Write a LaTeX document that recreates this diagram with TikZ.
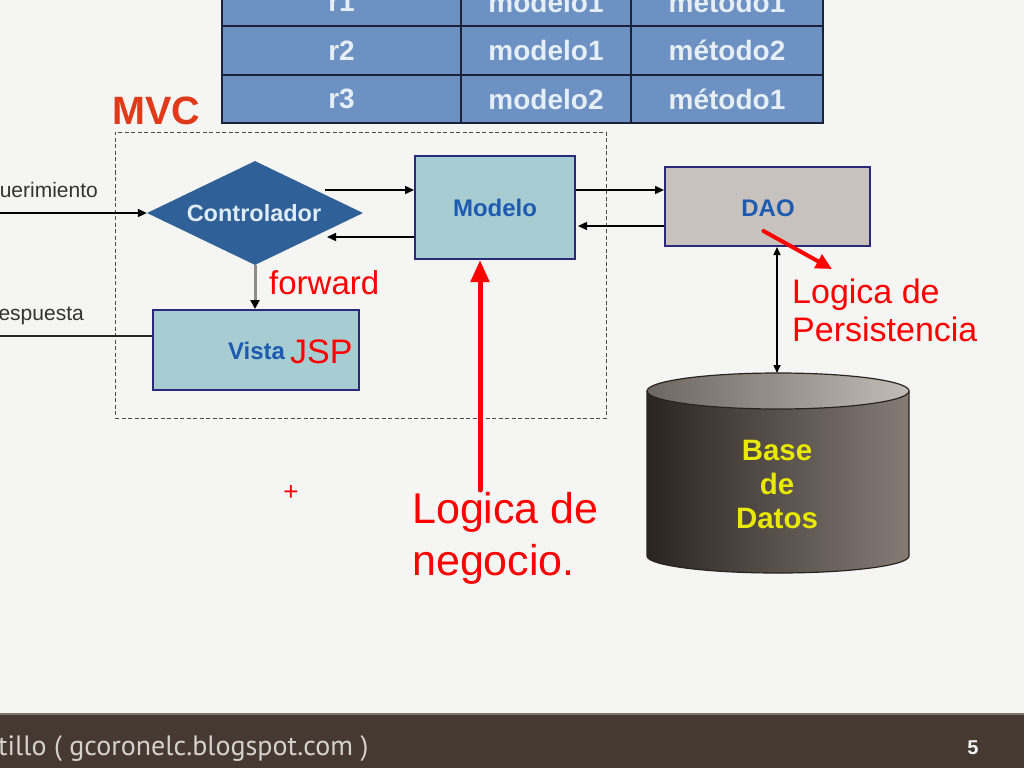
\documentclass[tikz,border=0pt]{standalone}
\usepackage{fontspec}
\setmainfont{Liberation Sans}
\newfontfamily\footfont{PT Sans}
\usetikzlibrary{shapes.geometric,arrows.meta}
\definecolor{bgc}{HTML}{F5F5F3}
\definecolor{tabfill}{HTML}{6C91C2}
\definecolor{tabtext}{HTML}{E6EEF6}
\definecolor{tabline}{HTML}{1B2238}
\definecolor{ctrlfill}{HTML}{2F6098}
\definecolor{ctrltext}{HTML}{E0ECF5}
\definecolor{boxfill}{HTML}{A7CDD2}
\definecolor{boxline}{HTML}{2B2A7A}
\definecolor{daofill}{HTML}{C8C2BE}
\definecolor{bluetxt}{HTML}{1E5BB0}
\definecolor{redtxt}{HTML}{FF0000}
\definecolor{mvcred}{HTML}{E03A1A}
\definecolor{footc}{HTML}{463932}
\definecolor{footline}{HTML}{7B726B}
\definecolor{foottext}{HTML}{D5D1CC}
\definecolor{dbedge}{HTML}{2A2420}
\definecolor{dbmid}{HTML}{6B625C}
\definecolor{dbright}{HTML}{857C76}
\definecolor{dbtopl}{HTML}{6E6660}
\definecolor{dbtopm}{HTML}{A39C96}
\definecolor{dbtopr}{HTML}{C2BCB6}
\definecolor{dbyellow}{HTML}{E8E800}
\definecolor{graytxt}{HTML}{333333}
\begin{document}
\begin{tikzpicture}[x=1pt,y=-1pt,
  cell/.style={draw=tabline, line width=2pt, fill=tabfill, text=tabtext,
    font=\bfseries\fontsize{28}{32}\selectfont, minimum height=48.5pt, inner sep=0pt},
  bbox/.style={draw=boxline, line width=2pt, fill=boxfill, inner sep=0pt},
  bluelbl/.style={text=bluetxt, font=\bfseries\fontsize{24}{26}\selectfont, inner sep=0pt},
  redlbl/.style={text=redtxt, inner sep=0pt},
  blkarrow/.style={draw=black, line width=1.5pt, -{Triangle[length=9pt,width=8pt]}},
  plainline/.style={draw=black!85, line width=2pt},
  redarrow/.style={draw=redtxt, line cap=round},
  smalllbl/.style={text=graytxt, font=\fontsize{21}{24}\selectfont, inner sep=0pt}
]
\useasboundingbox (0,0) rectangle (1024,768);
\fill[bgc] (0,0) rectangle (1024,768);

% table
\node[cell, minimum width=239pt] (t11) at (341.5,2) {r1};
\node[cell, minimum width=170pt] (t12) at (546,2) {modelo1};
\node[cell, minimum width=192pt] (t13) at (727,2) {método1};
\node[cell, minimum width=239pt] (t21) at (341.5,50.5) {r2};
\node[cell, minimum width=170pt] (t22) at (546,50.5) {modelo1};
\node[cell, minimum width=192pt] (t23) at (727,50.5) {método2};
\node[cell, minimum width=239pt] (t31) at (341.5,99) {r3};
\node[cell, minimum width=170pt] (t32) at (546,99) {modelo2};
\node[cell, minimum width=192pt] (t33) at (727,99) {método1};

% MVC label and dashed frame
\node[text=mvcred, font=\bfseries\fontsize{39.5}{42}\selectfont, inner sep=0pt, anchor=west] (mvc) at (112,111) {MVC};
\node[draw=black!70, dash pattern=on 4pt off 2.5pt, line width=1pt, minimum width=491pt, minimum height=286pt, inner sep=0pt] (frame) at (360.5,275) {};

% controller
\node[diamond, fill=ctrlfill, text=ctrltext, font=\bfseries\fontsize{24}{26}\selectfont,
  minimum width=216pt, minimum height=104pt, inner sep=0pt, aspect=2.08] (ctrl) at (255,213) {};
\node[text=ctrltext, font=\bfseries\fontsize{23.5}{26}\selectfont, inner sep=0pt] (ctrllbl) at (254,213) {Controlador};

% Modelo, DAO, Vista
\node[bbox, minimum width=160pt, minimum height=103pt] (modelo) at (495,207.5) {};
\node[bluelbl] (modelolbl) at (495,208) {Modelo};
\node[bbox, fill=daofill, minimum width=205pt, minimum height=79pt] (dao) at (767.5,206.5) {};
\node[bluelbl] (daolbl) at (768,208) {DAO};
\node[bbox, minimum width=206pt, minimum height=80pt] (vista) at (256,350) {};
\node[bluelbl] (vistalbl) at (256.5,351) {Vista};
\node[redlbl, font=\fontsize{34}{36}\selectfont, anchor=west] (jsp) at (290,352) {JSP};
\node[redlbl, font=\fontsize{33}{36}\selectfont, anchor=west] (fw) at (269,283) {forward};

% side labels
\coordinate (reqin) at (0,213);
\coordinate (respin) at (0,336);
\node[smalllbl, anchor=base east] (req) at (98,197) {uerimiento};
\node[smalllbl, anchor=base east] (resp) at (84,320) {espuesta};

% connectors
\draw[blkarrow, line width=2pt] (reqin) -- (ctrl.west);
\draw[plainline] (respin) -- ([yshift=14pt]vista.west);
\draw[blkarrow] ([xshift=70pt,yshift=23pt]ctrl.center) -- ([yshift=17.5pt]modelo.west);
\draw[blkarrow] ([yshift=-29.5pt]modelo.west) -- ([xshift=72pt,yshift=-24pt]ctrl.center);
\draw[draw=black!45, line width=3pt, -{Triangle[length=9pt,width=9pt,color=black]}] (ctrl.south) -- (ctrl.south |- vista.north);
\draw[blkarrow] ([yshift=17.5pt]modelo.east) -- ([yshift=17.5pt]modelo.east -| dao.west);
\draw[blkarrow] ([yshift=-19.5pt]dao.west) -- ([yshift=-19.5pt,xshift=2pt]dao.west -| modelo.east);

% database cylinder
\shade[left color=dbedge, middle color=dbmid, right color=dbright]
  (647,391) -- (647,556) arc[start angle=180,end angle=360,x radius=131pt,y radius=17pt]
  -- (909,391) -- cycle;
\draw[dbedge, line width=1.2pt] (647,391) -- (647,556) arc[start angle=180,end angle=360,x radius=131pt,y radius=17pt] -- (909,391);
\draw[dbedge, line width=1.2pt, left color=dbtopl, middle color=dbtopm, right color=dbtopr] (778,391) ellipse[x radius=131pt, y radius=18pt];
\node[text=dbyellow, font=\bfseries\fontsize{29.5}{34}\selectfont, align=center, inner sep=0pt] (db) at (777,484) {Base\\de\\Datos};
\coordinate (dbtop) at (777,373);
\draw[draw=black, line width=1.5pt, {Triangle[length=8pt,width=7pt]}-{Triangle[length=8pt,width=7pt]}] (dao.south -| dbtop) -- (dbtop);

% red annotations
\node[redlbl, font=\fontsize{34}{38}\selectfont, align=left, anchor=north west] (persist) at (792,279) {Logica de\\Persistencia};
\coordinate (ptip) at (832,269);
\draw[redarrow, line width=4pt, -{Triangle[length=16pt,width=15pt]}] ([xshift=-4pt,yshift=-24.5pt]dao.center) -- (ptip);
\node[redlbl, font=\fontsize{43}{52}\selectfont, align=left, anchor=north west] (negocio) at (412,492) {Logica de\\negocio.};
\coordinate (nstart) at (480,490);
\draw[redarrow, line width=5pt, -{Triangle[length=22pt,width=18pt]}] (nstart) -- ([xshift=-15pt]modelo.south);
\node[redlbl, font=\fontsize{26}{28}\selectfont] (plus) at (291,493) {+};

% footer
\fill[footc] (0,714) rectangle (1024,768);
\draw[footline, line width=2pt] (0,714) -- (1024,714);
\node[text=foottext, font=\footfont\fontsize{28}{30}\selectfont, anchor=base west, inner sep=0pt] (foot) at (-2,755) {tillo ( gcoronelc.blogspot.com )};
\node[text=white!90!gray, font=\bfseries\fontsize{20}{22}\selectfont, inner sep=0pt] (pnum) at (973,748) {5};
\end{tikzpicture}
\end{document}
